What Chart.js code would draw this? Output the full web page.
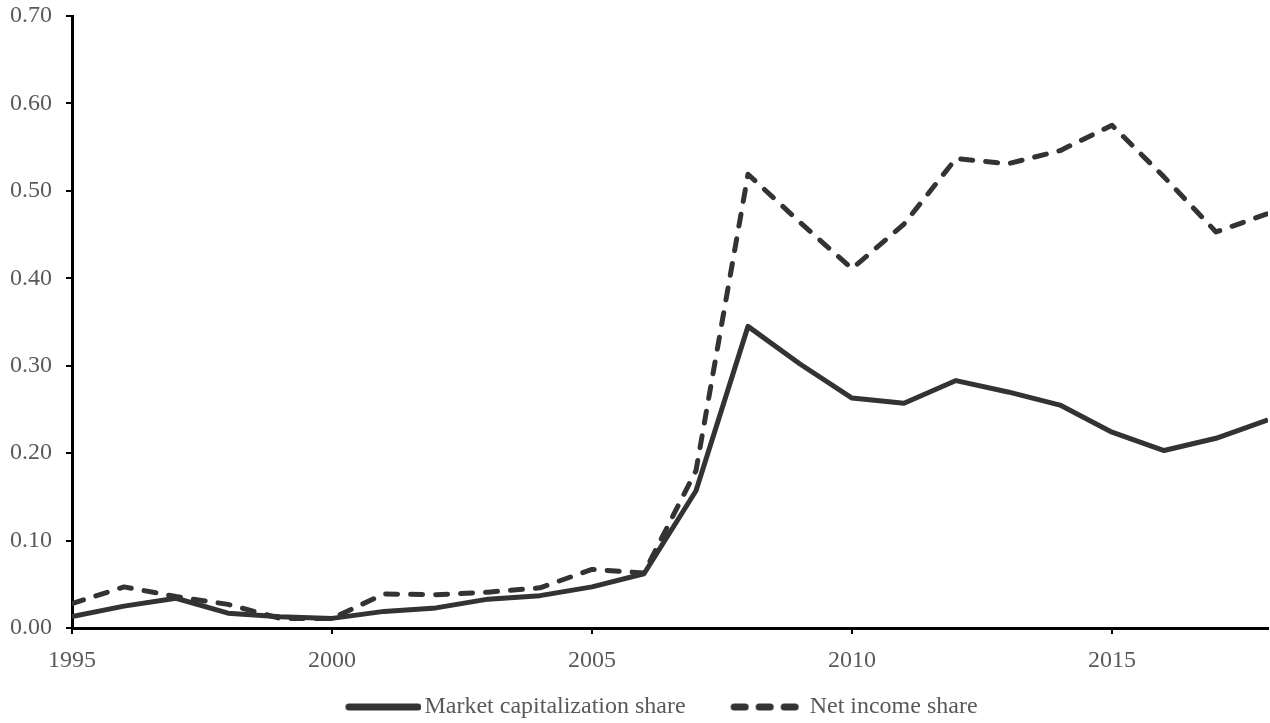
<!DOCTYPE html>
<html>
<head>
<meta charset="utf-8">
<script src="https://cdn.jsdelivr.net/npm/chart.js@4/dist/chart.umd.min.js"></script>
<style>
html,body{margin:0;padding:0;background:#fff;}
#wrap{width:1270px;height:723px;position:relative;}
</style>
</head>
<body>
<div id="wrap"><canvas id="c" width="1270" height="723"></canvas></div>
<script>
const years = [1995,1996,1997,1998,1999,2000,2001,2002,2003,2004,2005,2006,2007,2008,2009,2010,2011,2012,2013,2014,2015,2016,2017,2018];
const marketCapShare = [0.013,0.025,0.034,0.017,0.013,0.011,0.019,0.023,0.033,0.037,0.047,0.062,0.157,0.345,0.302,0.263,0.257,0.283,0.270,0.255,0.224,0.203,0.217,0.238];
const netIncomeShare = [0.028,0.047,0.036,0.027,0.011,0.011,0.039,0.038,0.041,0.046,0.067,0.063,0.180,0.519,0.464,0.411,0.462,0.537,0.531,0.546,0.575,0.516,0.453,0.474];
const xTickValues = [1995,2000,2005,2010,2015];
const yTickValues = [0,0.1,0.2,0.3,0.4,0.5,0.6,0.7];
const seriesNames = ['Market capitalization share','Net income share'];

const FONT = 'Liberation Serif';
const TXT = '#595959';
const LINE = '#333333';

const SW_PAD = 44;   // blank area at the left of each legend swatch image
function legendSwatch(dashed) {
  const cv = document.createElement('canvas');
  cv.width = 76 + SW_PAD; cv.height = 12;
  const g = cv.getContext('2d');
  g.strokeStyle = LINE; g.lineWidth = 7; g.lineCap = 'round';
  g.beginPath();
  const o = SW_PAD;
  if (dashed) {
    [[3.5,14.5],[28.5,39.5],[53.5,64.5]].forEach(([a,b]) => { g.moveTo(o+a,6); g.lineTo(o+b,6); });
  } else {
    g.moveTo(o+3.5,6); g.lineTo(o+72.5,6);
  }
  g.stroke();
  return cv;
}
const swatches = [legendSwatch(false), legendSwatch(true)];

// let the y tick labels use the whole left margin (labels are clipped to the scale box)
const widenYScale = {
  id: 'widenYScale',
  afterLayout(chart) { chart.scales.y.left = 0; }
};

new Chart(document.getElementById('c'), {
  type: 'line',
  data: {
    datasets: [
      {
        label: seriesNames[0],
        data: years.map((y,i)=>({x:y,y:marketCapShare[i]})),
        borderColor: LINE, backgroundColor: LINE,
        borderWidth: 5, pointRadius: 0, tension: 0,
        borderCapStyle: 'butt', borderJoinStyle: 'round'
      },
      {
        label: seriesNames[1],
        data: years.map((y,i)=>({x:y,y:netIncomeShare[i]})),
        borderColor: LINE, backgroundColor: LINE,
        borderWidth: 5, pointRadius: 0, tension: 0,
        borderDash: [12,13], borderCapStyle: 'round', borderJoinStyle: 'round'
      }
    ]
  },
  plugins: [widenYScale],
  options: {
    responsive: false,
    animation: false,
    devicePixelRatio: 1,
    layout: { padding: { top: 16, right: 2, left: 20, bottom: -6 } },
    plugins: {
      tooltip: { enabled: false },
      legend: {
        position: 'bottom',
        labels: {
          usePointStyle: true,
          pointStyleWidth: 58 + SW_PAD,
          boxHeight: 12,
          padding: 10,
          color: TXT,
          font: { family: FONT, size: 24 },
          generateLabels: (chart) => chart.data.datasets.map((ds, i) => ({
            text: ds.label,
            fillStyle: LINE,
            strokeStyle: LINE,
            lineWidth: 0,
            pointStyle: swatches[i],
            hidden: false,
            datasetIndex: i,
            fontColor: TXT
          }))
        }
      }
    },
    scales: {
      x: {
        type: 'linear',
        min: 1995, max: 2018,
        afterBuildTicks: (s) => { s.ticks = xTickValues.map(v => ({value: v})); },
        afterFit: (s) => { s.height = 57; },
        ticks: {
          color: TXT, font: { family: FONT, size: 24 }, padding: 12,
          maxRotation: 0, autoSkip: false,
          callback: (v) => String(v)
        },
        grid: { display: true, drawOnChartArea: false, drawTicks: true, tickLength: 6, tickColor: '#000', lineWidth: 2 },
        border: { display: true, color: '#000', width: 3 }
      },
      y: {
        type: 'linear',
        min: 0, max: 0.7,
        afterBuildTicks: (s) => { s.ticks = yTickValues.map(v => ({value: v})); },
        afterFit: (s) => { s.width = 52; s.paddingTop = 0; s.paddingBottom = 0; },
        ticks: {
          color: TXT, font: { family: FONT, size: 24 }, padding: 14,
          callback: (v) => Number(v).toFixed(2)
        },
        grid: { display: true, drawOnChartArea: false, drawTicks: true, tickLength: 6, tickColor: '#000', lineWidth: 2 },
        border: { display: true, color: '#000', width: 3 }
      }
    }
  }
});
</script>
</body>
</html>
